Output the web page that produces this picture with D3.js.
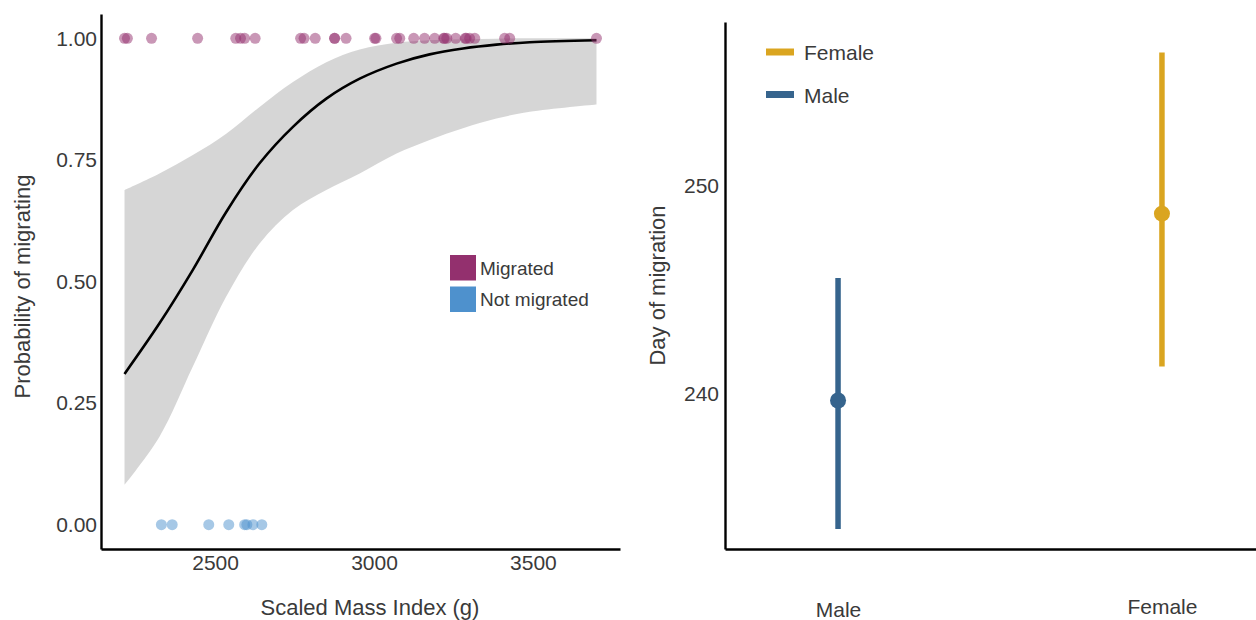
<!DOCTYPE html>
<html>
<head>
<meta charset="utf-8">
<script src="https://cdn.jsdelivr.net/npm/d3@7"></script>
<style>
  html, body { margin: 0; padding: 0; background: #fff; }
  svg { display: block; font-family: "Liberation Sans", Arial, sans-serif; }
</style>
</head>
<body>
<svg id="chart" width="1256" height="620"></svg>
<script>
// ---------- Left panel data ----------
const migratedMass = [2215, 2224, 2300, 2445, 2565, 2580, 2593, 2626, 2769, 2780, 2815, 2876, 2876, 2912,
  3002, 3006, 3071, 3081, 3125, 3159, 3191, 3219, 3222, 3229, 3257, 3287, 3290, 3301, 3317, 3411, 3427, 3700];
const notMigratedMass = [2331, 2365, 2480, 2543, 2593, 2600, 2619, 2647];

const fitMass  = [2215, 2325, 2430, 2535, 2640, 2745, 2850, 2955, 3071, 3175, 3280, 3385, 3490, 3700];
const fitProb  = [0.310, 0.414, 0.524, 0.643, 0.743, 0.818, 0.876, 0.917, 0.948, 0.967, 0.979, 0.987, 0.992, 0.996];
const fitLower = [0.082, 0.181, 0.325, 0.469, 0.578, 0.647, 0.688, 0.722, 0.763, 0.791, 0.815, 0.835, 0.849, 0.864];
const fitUpper = [0.688, 0.722, 0.760, 0.804, 0.859, 0.910, 0.951, 0.977, 0.991, 0.996, 0.998, 0.999, 1.000, 1.000];

const massTicks = [2500, 3000, 3500];
const probTicks = [0, 0.25, 0.5, 0.75, 1];
const statusLabels = ["Migrated", "Not migrated"];

// ---------- Right panel data ----------
const sexes = ["Male", "Female"];
const dayMean = [239.69, 248.66];
const dayLower = [233.52, 241.32];
const dayUpper = [245.57, 256.39];
const dayTicks = [240, 250];
const legendOrder = ["Female", "Male"];

// ---------- Styles ----------
const colMigrated = "#93306E";
const colNot = "#4E91CD";
const sexColor = { Male: "#36648D", Female: "#DAA520" };
const textCol = "#3a3a3a";
const tickFont = "21px";
const titleFont = "22px";

const svg = d3.select("#chart");

// ================= LEFT PANEL =================
const L = { left: 101, right: 620, top: 14, bottom: 549 };
const x1 = d3.scaleLinear().domain([2141, 3774]).range([L.left, L.right]);
const y1 = d3.scaleLinear().domain([-0.05, 1.05]).range([L.bottom, L.top]);

const band = fitMass.map((m, i) => ({ m, lo: fitLower[i], hi: fitUpper[i], p: fitProb[i] }));
const smooth = d3.curveCatmullRom.alpha(0.5);

svg.append("path")
  .datum(band)
  .attr("d", d3.area().curve(smooth)
    .x(d => x1(d.m)).y0(d => y1(d.lo)).y1(d => y1(d.hi)))
  .attr("fill", "#999999").attr("fill-opacity", 0.4);

svg.append("path")
  .datum(band)
  .attr("d", d3.line().curve(smooth).x(d => x1(d.m)).y(d => y1(d.p)))
  .attr("fill", "none").attr("stroke", "#000").attr("stroke-width", 2.6);

svg.append("g").selectAll("circle").data(migratedMass).join("circle")
  .attr("cx", d => x1(d)).attr("cy", y1(1)).attr("r", 5.5)
  .attr("fill", colMigrated).attr("fill-opacity", 0.5);

svg.append("g").selectAll("circle").data(notMigratedMass).join("circle")
  .attr("cx", d => x1(d)).attr("cy", y1(0)).attr("r", 5.5)
  .attr("fill", colNot).attr("fill-opacity", 0.5);

const gx1 = svg.append("g").attr("transform", `translate(0,${L.bottom})`)
  .call(d3.axisBottom(x1).tickValues(massTicks).tickSize(0).tickSizeOuter(0).tickPadding(6).tickFormat(d3.format("d")));
const gy1 = svg.append("g").attr("transform", `translate(${L.left},0)`)
  .call(d3.axisLeft(y1).tickValues(probTicks).tickSize(0).tickSizeOuter(0).tickPadding(4).tickFormat(d3.format(".2f")));

[gx1, gy1].forEach(g => {
  g.select(".domain").attr("stroke", "#000").attr("stroke-width", 2.4);
  g.selectAll("text").attr("fill", textCol).style("font-size", tickFont).style("font-family", "'Liberation Sans', Arial, sans-serif");
});

svg.append("text")
  .attr("x", 370).attr("y", 615)
  .attr("text-anchor", "middle").attr("fill", textCol).style("font-size", titleFont)
  .text("Scaled Mass Index (g)");

svg.append("text")
  .attr("transform", `translate(30,${(L.top + L.bottom) / 2 + 5}) rotate(-90)`)
  .attr("text-anchor", "middle").attr("fill", textCol).style("font-size", titleFont)
  .text("Probability of migrating");

// legend left
const legL = svg.append("g").attr("transform", "translate(450,255)");
statusLabels.forEach((lab, i) => {
  legL.append("rect").attr("x", 0).attr("y", i * 31.5).attr("width", 26).attr("height", 25.5)
    .attr("fill", i === 0 ? colMigrated : colNot);
  legL.append("text").attr("x", 30).attr("y", i * 31.5 + 13).attr("dy", "0.35em")
    .attr("fill", textCol).style("font-size", "19px").text(lab);
});

// ================= RIGHT PANEL =================
const R = { left: 725, right: 1275, top: 22, bottom: 549 };
const x2 = d3.scalePoint().domain(sexes).range([R.left, R.right]).padding(0.349);
const y2 = d3.scaleLinear().domain([232.56, 257.86]).range([R.bottom, R.top]);

const est = sexes.map((s, i) => ({ s, m: dayMean[i], lo: dayLower[i], hi: dayUpper[i] }));

svg.append("g").selectAll("line").data(est).join("line")
  .attr("x1", d => x2(d.s)).attr("x2", d => x2(d.s))
  .attr("y1", d => y2(d.lo)).attr("y2", d => y2(d.hi))
  .attr("stroke", d => sexColor[d.s]).attr("stroke-width", 5.5);

svg.append("g").selectAll("circle").data(est).join("circle")
  .attr("cx", d => x2(d.s)).attr("cy", d => y2(d.m)).attr("r", 8)
  .attr("fill", d => sexColor[d.s]);

const gx2 = svg.append("g").attr("transform", `translate(0,${R.bottom})`)
  .call(d3.axisBottom(x2).tickSize(0).tickSizeOuter(0).tickPadding(53));
const gy2 = svg.append("g").attr("transform", `translate(${R.left},0)`)
  .call(d3.axisLeft(y2).tickValues(dayTicks).tickSize(0).tickSizeOuter(0).tickPadding(6).tickFormat(d3.format("d")));

[gx2, gy2].forEach(g => {
  g.select(".domain").attr("stroke", "#000").attr("stroke-width", 2.4);
  g.selectAll("text").attr("fill", textCol).style("font-size", tickFont).style("font-family", "'Liberation Sans', Arial, sans-serif");
});
gx2.selectAll(".tick text").attr("y", d => d === "Female" ? 50 : 53);

svg.append("text")
  .attr("transform", `translate(665,${(R.top + R.bottom) / 2}) rotate(-90)`)
  .attr("text-anchor", "middle").attr("fill", textCol).style("font-size", titleFont)
  .text("Day of migration");

// legend right
const legR = svg.append("g").attr("transform", "translate(766,52)");
legendOrder.forEach((lab, i) => {
  legR.append("line").attr("x1", 0).attr("x2", 28).attr("y1", i * 42.5).attr("y2", i * 42.5)
    .attr("stroke", sexColor[lab]).attr("stroke-width", 7);
  legR.append("text").attr("x", 38).attr("y", i * 42.5 + 1).attr("dy", "0.35em")
    .attr("fill", textCol).style("font-size", "21px").text(lab);
});
</script>
</body>
</html>
